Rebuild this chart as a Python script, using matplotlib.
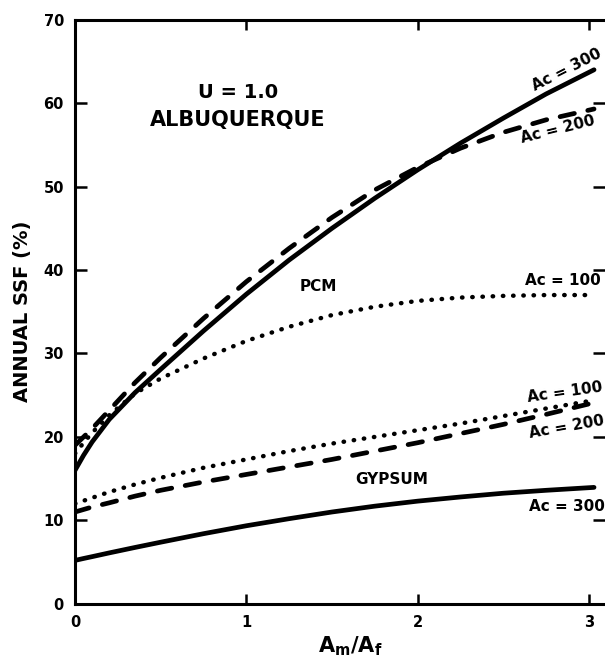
import matplotlib
matplotlib.use("Agg")
import matplotlib.pyplot as plt

x_vals = [0, 0.05, 0.1, 0.2, 0.35, 0.5, 0.75, 1.0, 1.25, 1.5, 1.75, 2.0, 2.25, 2.5, 2.75, 3.03]

pcm_ac300 = [16.0, 17.8, 19.4, 22.1, 25.3, 28.1, 32.7, 37.1, 41.2, 45.0, 48.6, 52.0, 55.2, 58.2, 61.1, 64.0]
pcm_ac200 = [19.0, 20.0, 21.0, 23.2, 26.5, 29.5, 34.2, 38.6, 42.6, 46.3, 49.6, 52.3, 54.6, 56.5, 58.0, 59.3]
pcm_ac100 = [18.0, 19.3, 20.5, 22.6, 25.2, 27.0, 29.4, 31.5, 33.2, 34.6, 35.6, 36.3, 36.7, 36.9, 37.0, 37.0]

gyp_ac100 = [12.0, 12.35, 12.7, 13.4, 14.3, 15.1, 16.3, 17.3, 18.3, 19.2, 20.0, 20.8, 21.6, 22.5, 23.4, 24.4]
gyp_ac200 = [11.0, 11.3, 11.6, 12.1, 12.9, 13.6, 14.6, 15.5, 16.4, 17.3, 18.3, 19.3, 20.4, 21.5, 22.7, 24.1]
gyp_ac300 = [5.2, 5.43, 5.65, 6.1, 6.75, 7.38, 8.4, 9.35, 10.2, 11.0, 11.7, 12.3, 12.8, 13.25, 13.6, 13.95]

x_ticks = [0, 1, 2, 3]
y_ticks = [0, 10, 20, 30, 40, 50, 60, 70]

plt.rcParams['font.family'] = ['DejaVu Sans']
plt.rcParams['mathtext.fontset'] = 'dejavusans'

fig = plt.figure(figsize=(6.05, 6.57), dpi=100)
ax = fig.add_axes([0.124, 0.081, 0.876, 0.889])

lw = 3.4
dash = (3.1, 2.9)
dot = (0, (0.1, 2.2))
ax.plot(x_vals, pcm_ac300, color='black', lw=lw, solid_capstyle='round', solid_joinstyle='round')
ax.plot(x_vals, pcm_ac200, color='black', lw=lw, dashes=dash, dash_capstyle='round')
ax.plot(x_vals, pcm_ac100, color='black', lw=3.2, linestyle=dot, dash_capstyle='round')
ax.plot(x_vals, gyp_ac100, color='black', lw=3.2, linestyle=dot, dash_capstyle='round')
ax.plot(x_vals, gyp_ac200, color='black', lw=lw, dashes=dash, dash_capstyle='round')
ax.plot(x_vals, gyp_ac300, color='black', lw=lw, solid_capstyle='round', solid_joinstyle='round')

ax.set_xlim(0, 3.094)
ax.set_ylim(0, 70)
ax.set_xticks(x_ticks)
ax.set_yticks(y_ticks)

for s in ['left', 'bottom', 'top']:
    ax.spines[s].set_linewidth(2.2)
ax.spines['right'].set_visible(False)
ax.tick_params(axis='both', direction='in', length=7, width=1.8,
               labelsize=10.5, top=True, right=True)
ax.tick_params(axis='y', which='both', left=True, length=8.5, pad=8)
ax.tick_params(axis='x', pad=8)
for lbl in ax.get_xticklabels() + ax.get_yticklabels():
    lbl.set_fontweight('bold')

ax.set_ylabel('ANNUAL SSF (%)', fontsize=14, fontweight='bold')
ax.yaxis.set_label_coords(-0.082, 0.5)
ax.set_xlabel(r'$\mathbf{A_m/A_f}$', fontsize=15)
ax.xaxis.set_label_coords(0.52, -0.052)

ax.text(0.95, 61.3, 'U = 1.0', ha='center', va='center', fontsize=14, fontweight='bold')
ax.text(0.95, 58.0, 'ALBUQUERQUE', ha='center', va='center', fontsize=15, fontweight='bold')
ax.text(1.42, 38.0, 'PCM', ha='center', va='center', fontsize=11, fontweight='bold')
ax.text(1.85, 14.9, 'GYPSUM', ha='center', va='center', fontsize=11, fontweight='bold')

lab = dict(ha='center', va='center', fontsize=11, fontweight='bold')
ax.text(2.87, 64.0, 'Ac = 300', rotation=27, **lab)
ax.text(2.82, 56.8, 'Ac = 200', rotation=14, **lab)
ax.text(2.85, 38.7, 'Ac = 100', rotation=0, **lab)
ax.text(2.86, 25.3, 'Ac = 100', rotation=8, **lab)
ax.text(2.87, 21.2, 'Ac = 200', rotation=10, **lab)
ax.text(2.87, 11.7, 'Ac = 300', rotation=0, **lab)

fig.savefig('out.png', dpi=100)
